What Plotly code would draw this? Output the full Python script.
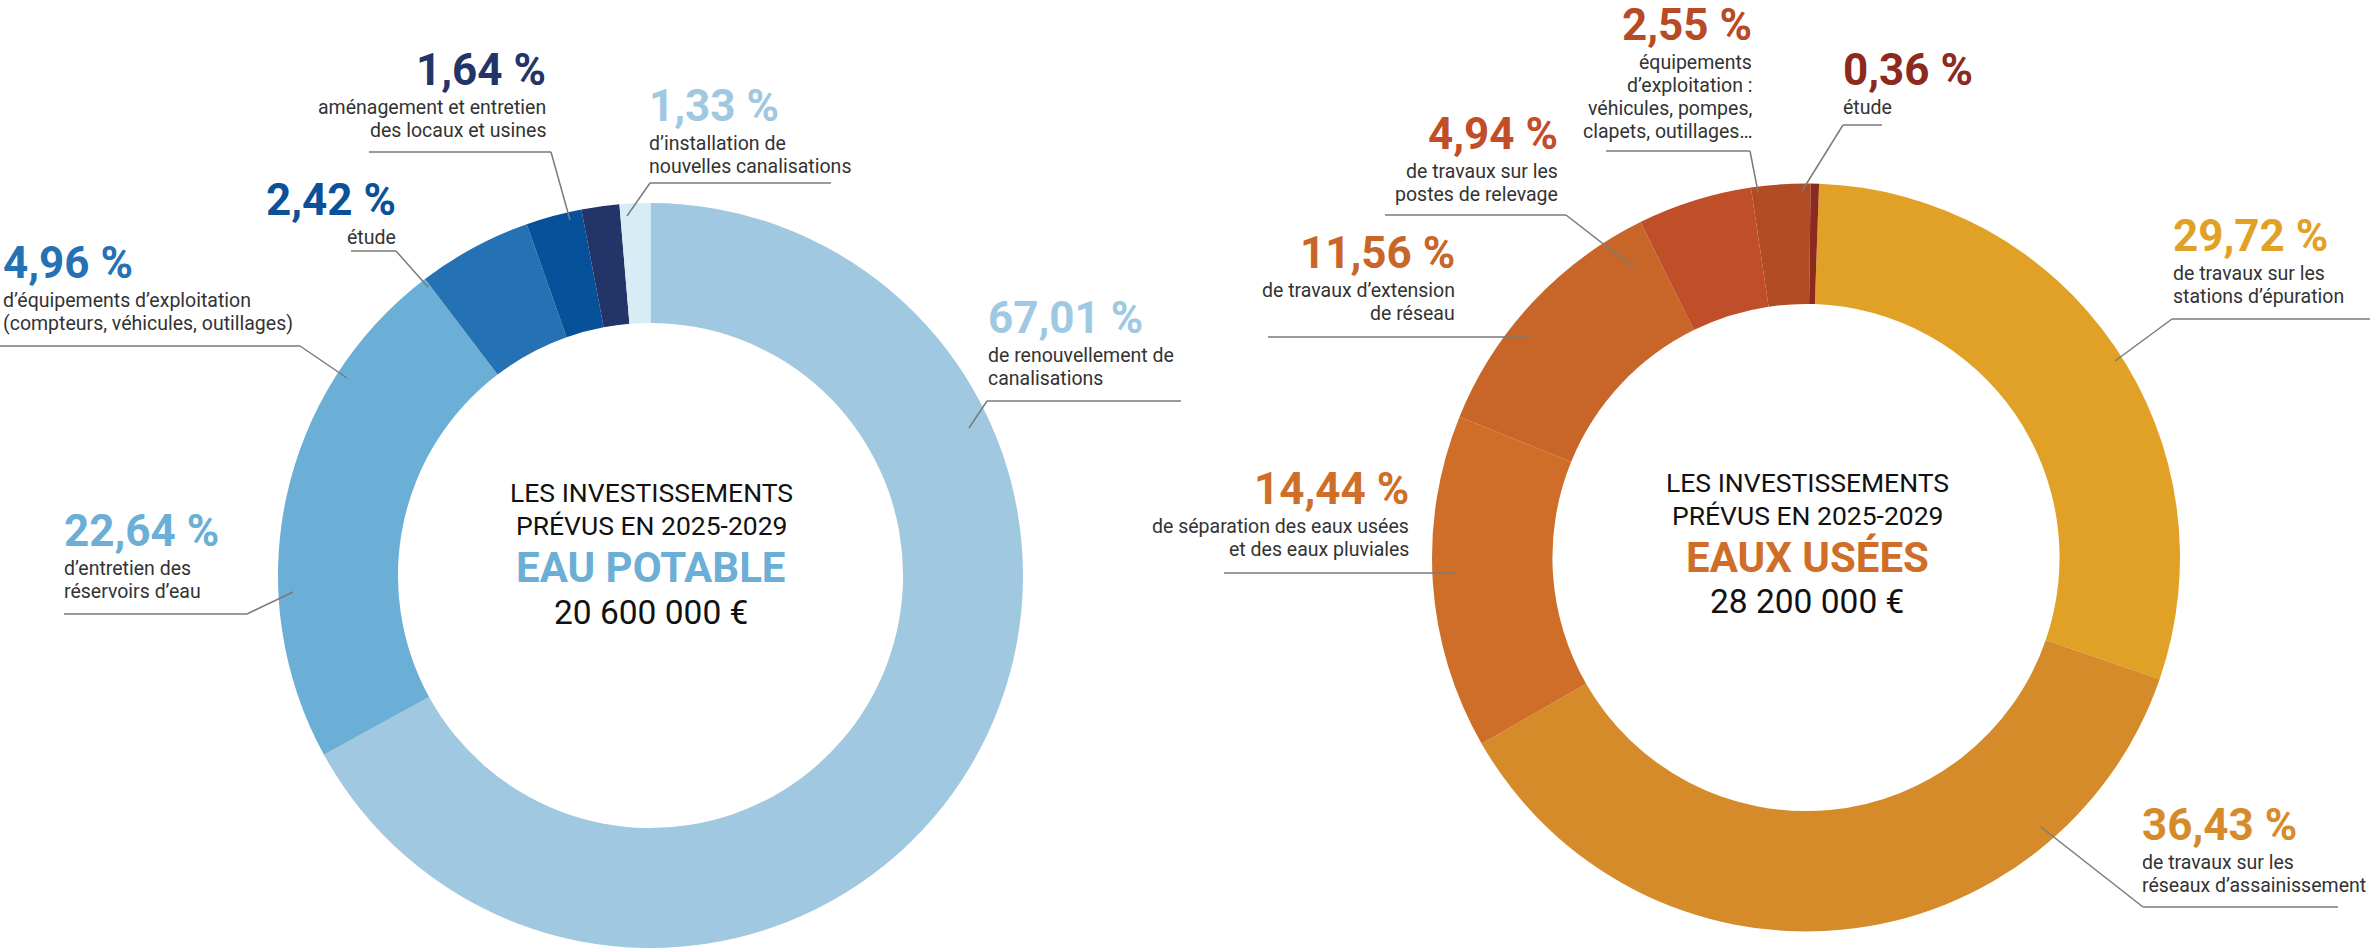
import plotly.graph_objects as go

# ---------------- DATA ----------------
potable_categories = [
    "renouvellement de canalisations",
    "entretien des réservoirs d’eau",
    "équipements d’exploitation",
    "étude",
    "aménagement et entretien des locaux et usines",
    "installation de nouvelles canalisations",
]
potable_values = [67.01, 22.64, 4.96, 2.42, 1.64, 1.33]
potable_desc = [
    ["de renouvellement de", "canalisations"],
    ["d’entretien des", "réservoirs d’eau"],
    ["d’équipements d’exploitation", "(compteurs, véhicules, outillages)"],
    ["étude"],
    ["aménagement et entretien", "des locaux et usines"],
    ["d’installation de", "nouvelles canalisations"],
]
potable_colors = ["#A0C8E0", "#6BAED6", "#2471B3", "#07519B", "#223468", "#D6EDF5"]
potable_text_colors = ["#9FC9E3", "#6BAED6", "#2471B3", "#0A519A", "#223468", "#A0C8E0"]

usees_categories = [
    "stations d’épuration",
    "réseaux d’assainissement",
    "séparation eaux usées / pluviales",
    "extension de réseau",
    "postes de relevage",
    "équipements d’exploitation",
    "étude",
]
usees_values = [29.72, 36.43, 14.44, 11.56, 4.94, 2.55, 0.36]
usees_desc = [
    ["de travaux sur les", "stations d’épuration"],
    ["de travaux sur les", "réseaux d’assainissement"],
    ["de séparation des eaux usées", "et des eaux pluviales"],
    ["de travaux d’extension", "de réseau"],
    ["de travaux sur les", "postes de relevage"],
    ["équipements", "d’exploitation :", "véhicules, pompes,", "clapets, outillages…"],
    ["étude"],
]
usees_colors = ["#E1A127", "#D68B2B", "#CF6E29", "#C86529", "#BF4E29", "#B24C25", "#8C2A1E"]
usees_text_colors = ["#E1A127", "#D68B2B", "#CF6E29", "#C86529", "#C14E29", "#B84A26", "#8C2A1E"]

centre_lines = ["LES INVESTISSEMENTS", "PRÉVUS EN 2025-2029"]
potable_title = "EAU POTABLE"
potable_total = "20 600 000 €"
usees_title = "EAUX USÉES"
usees_total = "28 200 000 €"

# ---------------- LAYOUT CONSTANTS ----------------
W, H = 2370, 952
FONT = "Roboto"
DESC_COLOR = "#333333"
CENTRE_COLOR = "#111111"
LEADER_COLOR = "#7a7a7a"
PCT_SIZE = 44
DESC_SIZE = 19.5
DESC_GAP = 29      # percent baseline -> first description baseline
DESC_STEP = 22.9   # description line spacing
MID_K = 0.342      # (ascent - descent) / 2 for Roboto, in em


def px(x):
    return x / W


def py(y):
    return 1 - y / H


# label layout: (anchor x, side, percent cap-top y, leader points)
potable_layout = [
    (988, "left", 303, [(1181, 401), (987, 401), (969, 428)]),
    (64, "left", 516, [(64, 614), (247, 614), (293, 592)]),
    (3, "left", 248, [(0, 346), (300, 346), (347, 378)]),
    (396, "right", 185, [(351, 251), (396, 251), (428, 287)]),
    (546, "right", 55, [(369, 152), (551, 152), (570, 220)]),
    (649, "left", 91, [(831, 183), (650, 183), (627, 216)]),
]
usees_layout = [
    (2173, "left", 221, [(2370, 319), (2172, 319), (2115, 361)]),
    (2142, "left", 810, [(2338, 907), (2143, 907), (2041, 827)]),
    (1409, "right", 474, [(1224, 573), (1455, 573)]),
    (1455, "right", 238, [(1268, 337), (1530, 337)]),
    (1558, "right", 119, [(1385, 215), (1566, 215), (1633, 267)]),
    (1752, "right", 10, [(1606, 151), (1750, 151), (1758, 192)]),
    (1843, "left", 55, [(1882, 125), (1843, 125), (1802, 191)]),
]

# donut geometry (pixels)
L_CX, L_CY, L_R = 650.5, 575.5, 372.5
R_CX, R_CY, R_R = 1806, 557.5, 374
HOLE = 0.678

fig = go.Figure()

fig.add_trace(go.Pie(
    labels=potable_categories, values=potable_values,
    marker=dict(colors=potable_colors, line=dict(width=0)),
    hole=HOLE, sort=False, direction="clockwise", rotation=0,
    textinfo="none", hoverinfo="label+value", showlegend=False,
    domain=dict(x=[px(L_CX - L_R), px(L_CX + L_R)], y=[py(L_CY + L_R), py(L_CY - L_R)]),
))
fig.add_trace(go.Pie(
    labels=usees_categories, values=usees_values,
    marker=dict(colors=usees_colors, line=dict(width=0)),
    hole=HOLE, sort=False, direction="clockwise", rotation=2,
    textinfo="none", hoverinfo="label+value", showlegend=False,
    domain=dict(x=[px(R_CX - R_R), px(R_CX + R_R)], y=[py(R_CY + R_R), py(R_CY - R_R)]),
))

annotations = []
shapes = []


def fmt(v):
    return f"{v:.2f}".replace(".", ",") + " %"


def text_line(text, x, baseline, size, color, side, bold=False):
    shift = {"left": -2, "right": 2, "center": 0}[side]
    annotations.append(dict(
        text=text, x=px(x + shift), y=py(baseline - MID_K * size),
        xref="paper", yref="paper", xanchor=side, yanchor="middle",
        showarrow=False,
        font=dict(family=FONT, size=size, color=color,
                  weight="bold" if bold else "normal"),
    ))


def add_labels(values, descs, tcolors, layout):
    for v, desc, col, (ax, side, top, pts) in zip(values, descs, tcolors, layout):
        base = top + 30
        text_line(fmt(v), ax, base, PCT_SIZE, col, side, bold=True)
        for i, line in enumerate(desc):
            text_line(line, ax, base + DESC_GAP + i * DESC_STEP, DESC_SIZE, DESC_COLOR, side)
        for (x0, y0), (x1, y1) in zip(pts[:-1], pts[1:]):
            shapes.append(dict(
                type="line", xref="paper", yref="paper",
                x0=px(x0), y0=py(y0), x1=px(x1), y1=py(y1),
                line=dict(color=LEADER_COLOR, width=1.5),
            ))


add_labels(potable_values, potable_desc, potable_text_colors, potable_layout)
add_labels(usees_values, usees_desc, usees_text_colors, usees_layout)


def add_centre(cx, baselines, title, title_color, total):
    text_line(centre_lines[0], cx, baselines[0], 26.5, CENTRE_COLOR, "center")
    text_line(centre_lines[1], cx, baselines[1], 26.5, CENTRE_COLOR, "center")
    text_line(title, cx, baselines[2], 42, title_color, "center", bold=True)
    text_line(total, cx, baselines[3], 33.5, CENTRE_COLOR, "center")


add_centre(651, [502, 535, 582, 624], potable_title, "#6BAED6", potable_total)
add_centre(1807, [492, 525, 572, 613], usees_title, "#CF6E29", usees_total)

fig.update_layout(
    width=W, height=H,
    margin=dict(l=0, r=0, t=0, b=0),
    paper_bgcolor="white", plot_bgcolor="white",
    annotations=annotations, shapes=shapes,
    font=dict(family=FONT),
)

fig.write_html(
    "out.html",
    config={"displayModeBar": False},
    post_script="document.body.style.margin='0px';",
)
